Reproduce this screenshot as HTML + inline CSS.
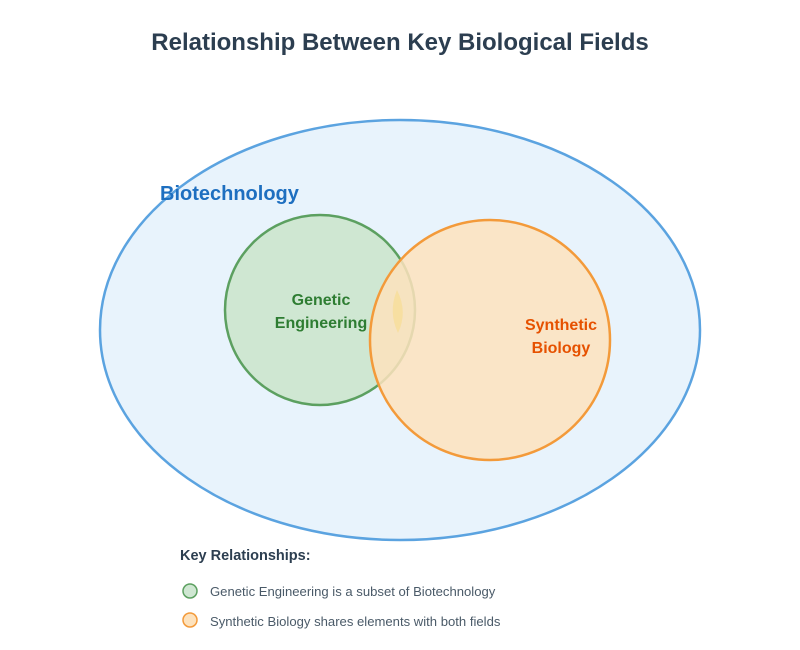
<!DOCTYPE html>
<html><head><style>body{margin:0;background:#fff}svg{display:block}</style></head><body>
<svg width="800" height="650" xmlns="http://www.w3.org/2000/svg" font-family="Liberation Sans, sans-serif">
<rect width="800" height="650" fill="#fff"/>
<text x="400" y="50" text-anchor="middle" font-size="24" font-weight="bold" fill="#2c3e50">Relationship Between Key Biological Fields</text>
<ellipse cx="400" cy="330" rx="300" ry="210" fill="#e8f3fc" stroke="#5ba3e0" stroke-width="2.5"/>
<text x="160" y="200" font-size="20" font-weight="bold" fill="#1e6fc0">Biotechnology</text>
<circle cx="320" cy="310" r="95" fill="#cfe7d2" stroke="#5ca060" stroke-width="2.5"/>
<circle cx="490" cy="340" r="120" fill="#fde2bd" fill-opacity="0.85" stroke="#f39a3a" stroke-width="2.5"/>
<path d="M397 290 Q408 312 398 333 Q388 312 397 290Z" fill="#f8dd98" opacity="0.8"/>
<text x="321" y="305" text-anchor="middle" font-size="16" font-weight="bold" fill="#2e7d32">Genetic</text>
<text x="321" y="328" text-anchor="middle" font-size="16" font-weight="bold" fill="#2e7d32">Engineering</text>
<text x="561" y="330" text-anchor="middle" font-size="16" font-weight="bold" fill="#e65100">Synthetic</text>
<text x="561" y="353" text-anchor="middle" font-size="16" font-weight="bold" fill="#e65100">Biology</text>
<text x="180" y="560" font-size="14.5" font-weight="bold" fill="#2c3e50">Key Relationships:</text>
<circle cx="190" cy="591" r="7" fill="#cfe7d2" stroke="#5ca060" stroke-width="1.5"/>
<text x="210" y="596" font-size="13.1" fill="#4a5a68">Genetic Engineering is a subset of Biotechnology</text>
<circle cx="190" cy="620" r="7" fill="#fde2bd" stroke="#f39a3a" stroke-width="1.5"/>
<text x="210" y="626" font-size="13.1" fill="#4a5a68">Synthetic Biology shares elements with both fields</text>
</svg>
</body></html>
